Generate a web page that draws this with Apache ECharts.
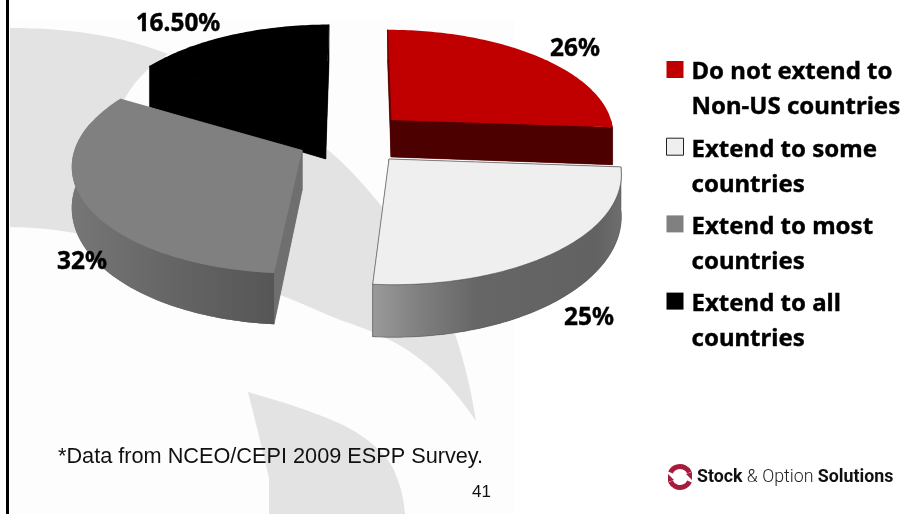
<!DOCTYPE html>
<html>
<head>
<meta charset="utf-8">
<style>html,body{margin:0;padding:0;background:#fff}#chart{width:903px;height:514px}</style>
<script src="https://cdn.jsdelivr.net/npm/echarts@6/dist/echarts.min.js"></script>
</head>
<body>
<div id="chart"></div>
<script>
// Survey shares, clockwise from twelve o'clock
const categories = [
  'Do not extend to\nNon-US countries',
  'Extend to some\ncountries',
  'Extend to most\ncountries',
  'Extend to all\ncountries'
];
const shares = [26, 25, 32, 16.5];
const shareLabels = ['26%', '25%', '32%', '16.50%'];

// Perspective projection of the pie plane
const view = { cx: 358, cy: 137.5, rx: 224.5, ry: 105, persp: 0.12, height: 38.5 };

// Per-slice look: explosion in pie units, wall height factor, colours, label anchor
const sliceLook = [
  { ex: 0.15, ey: 0.17, hk: 1, top: '#c00000', cut: '#4d0000', startEdge: '#7a0000', wall: [[0, '#4d0000'], [1, '#4d0000']], lx: 575, ly: 49, z: 2 },
  { ex: 0.135, ey: -0.2, hk: 1, top: '#efefef', cut: '#666666', outline: '#555555',
    wall: [[0, '#9a9a9a'], [0.2, '#7e7e7e'], [0.42, '#666666'], [0.9, '#626262'], [1, '#6e6e6e']], lx: 589, ly: 318, z: 4 },
  { ex: -0.245, ey: -0.12, hk: 1, top: '#808080', cut: '#6f6f6f',
    wall: [[0, '#767676'], [0.5, '#656565'], [1, '#565656']], lx: 82, ly: 262, z: 3 },
  { ex: -0.148, ey: 0.235, hk: 1.25, top: '#000000', cut: '#000000', startEdge: '#000000', wall: [[0, '#000000'], [1, '#000000']], lx: 178, ly: 24, z: 1 }
];

// Watermark swooshes behind the pie
const swooshPaths = [
  'M10,28 C70,28 122,36 168,54 C146,68 131,85 122,104 L250,125 L328,150 C352,170 370,192 382,207 C420,262 448,310 457,340 C466,368 472,395 476,421 C452,385 425,358 390,340 C370,330 355,325 340,320 C320,312 300,302 280,295 C190,262 100,228 10,227 Z',
  'M248,392 C290,404 320,414 345,426 C375,442 392,460 397,478 C402,490 404,502 405,514 L269,514 L269,478 C262,448 255,420 248,392 Z'
];

const total = shares.reduce((a, b) => a + b, 0);
const startAngles = shares.map((_, i) => shares.slice(0, i).reduce((a, b) => a + b, 0) / total * 360);

// World point on the pie plane to screen; down = true gives the underside of the wall
function project(X, Y, look, down) {
  const s = 1 / (1 + view.persp * Y);
  const px = view.cx + view.rx * X * s;
  let py = view.cy - view.ry * Y * s;
  if (down) py += view.height * look.hk * s * s;
  return [px, py];
}
function rimPoint(deg, look, down) {
  const t = deg * Math.PI / 180;
  return project(Math.sin(t) + look.ex, Math.cos(t) + look.ey, look, down);
}
function arc(from, to, look, down) {
  const pts = [];
  const n = Math.max(2, Math.ceil(Math.abs(to - from)));
  for (let i = 0; i <= n; i++) pts.push(rimPoint(from + (to - from) * i / n, look, down));
  return pts;
}

function sliceRenderer(index) {
  return function (params, api) {
    const look = sliceLook[index];
    const a0 = startAngles[index];
    const a1 = a0 + api.value(0) / total * 360;
    const apex = project(look.ex, look.ey, look, false);
    const apexLow = project(look.ex, look.ey, look, true);
    const children = [];
    // underside, which also closes the seams between the faces above it
    children.push({
      type: 'polygon', z2: 0,
      shape: { points: [apexLow].concat(arc(a0, a1, look, true)) },
      style: { fill: look.cut }
    });
    // cut faces next, so the rim wall and the top can cover them
    [a0, a1].forEach(function (a) {
      children.push({
        type: 'polygon', z2: 1,
        shape: { points: [apex, rimPoint(a, look, false), rimPoint(a, look, true), apexLow] },
        style: { fill: look.cut, stroke: look.cut, lineWidth: 0.5 }
      });
    });
    // only the part of the rim that faces the viewer
    const w0 = Math.max(a0, 90), w1 = Math.min(a1, 285);
    if (w1 > w0) {
      const upper = arc(w0, w1, look, false);
      const lower = arc(w0, w1, look, true).reverse();
      children.push({
        type: 'polygon', z2: 2,
        shape: { points: upper.concat(lower) },
        style: {
          fill: new echarts.graphic.LinearGradient(0, 0, 1, 0,
            look.wall.map(s => ({ offset: s[0], color: s[1] }))),
          stroke: look.outline || null, lineWidth: 0.5
        }
      });
    }
    children.push({
      type: 'polygon', z2: 3,
      shape: { points: [apex].concat(arc(a0, a1, look, false)) },
      style: { fill: look.top, stroke: look.outline || null, lineWidth: 0.6 }
    });
    if (look.startEdge) {
      children.push({
        type: 'polyline', z2: 3,
        shape: { points: [apex, rimPoint(a0, look, false)] },
        style: { fill: null, stroke: look.startEdge, lineWidth: 1.2 }
      });
    }
    children.push({
      type: 'text', z2: 4,
      style: {
        text: shareLabels[index], x: look.lx, y: look.ly,
        align: 'center', verticalAlign: 'middle',
        font: 'bold 24.4px "Noto Sans"', fill: '#000', stroke: '#000', lineWidth: 0.4
      }
    });
    return { type: 'group', children: children };
  };
}

const sliceSeries = categories.map((name, i) => ({
  type: 'custom', name: name, coordinateSystem: 'none', z: 10 + sliceLook[i].z,
  silent: true,
  data: [[shares[i]]],
  renderItem: sliceRenderer(i)
}));

const watermarkSeries = {
  type: 'custom', coordinateSystem: 'none', z: 1, silent: true,
  data: [[0]],
  renderItem: function () {
    return {
      type: 'group',
      children: swooshPaths.map(d => ({ type: 'path', shape: { pathData: d }, style: { fill: '#e3e3e3' } }))
    };
  }
};

const legendLineStyle = {
  fontFamily: '"Noto Sans"', fontWeight: 'bold', fontSize: 24,
  lineHeight: 35, color: '#000', textBorderColor: '#000', textBorderWidth: 0.4
};

const option = {
  animation: false,
  backgroundColor: '#ffffff',
  legend: {
    orient: 'vertical', left: 666, top: 29.5, padding: 0,
    itemWidth: 17, itemHeight: 17, itemGap: -13,
    selectedMode: false,
    // the blank leading line keeps each swatch level with the first text line
    formatter: name => '{s| }\n' + name.split('\n').map(line => '{t|' + line + '}').join('\n'),
    textStyle: {
      padding: [0, 0, 0, 3],
      rich: { s: { fontSize: 10, lineHeight: 41 }, t: legendLineStyle }
    },
    data: [
      { name: categories[0], icon: 'rect', itemStyle: { color: '#c00000', borderWidth: 0 } },
      { name: categories[1], icon: 'rect', itemStyle: { color: '#efefef', borderColor: '#222', borderWidth: 1 } },
      { name: categories[2], icon: 'rect', itemStyle: { color: '#808080', borderWidth: 0 } },
      { name: categories[3], icon: 'rect', itemStyle: { color: '#000000', borderWidth: 0 } }
    ]
  },
  series: [watermarkSeries].concat(sliceSeries),
  graphic: { elements: [
    // slide panel and margin rule
    { type: 'rect', z: -5, shape: { x: 10, y: 20, width: 505, height: 494 }, style: { fill: '#fdfdfd' } },
    { type: 'rect', z: 5, shape: { x: 6, y: 0, width: 3, height: 514 }, style: { fill: '#000' } },
    // footnote and slide number
    { type: 'text', z: 6, style: { text: '*Data from NCEO/CEPI 2009 ESPP Survey.', x: 58, y: 457, verticalAlign: 'middle',
        font: '21.7px "Liberation Sans"', fill: '#111' } },
    { type: 'text', z: 6, style: { text: '41', x: 472, y: 492, verticalAlign: 'middle',
        font: '17px "Liberation Sans"', fill: '#111' } },
    // company mark
    { type: 'sector', z: 6, shape: { cx: 680, cy: 477, r: 13, r0: 8, startAngle: Math.PI * 1.14, endAngle: Math.PI * 1.86 }, style: { fill: '#a51c3c' } },
    { type: 'sector', z: 6, shape: { cx: 680, cy: 477, r: 13, r0: 8, startAngle: Math.PI * 0.14, endAngle: Math.PI * 0.86 }, style: { fill: '#a51c3c' } },
    { type: 'polygon', z: 6, shape: { points: [[668, 474], [674, 480], [668, 482]] }, style: { fill: '#a51c3c' } },
    { type: 'polygon', z: 6, shape: { points: [[692, 480], [686, 474], [692, 472]] }, style: { fill: '#a51c3c' } },
    { type: 'text', z: 6, style: {
        x: 697, y: 478, verticalAlign: 'middle',
        text: '{b|Stock}{l| & Option }{b|Solutions}',
        rich: {
          b: { fontFamily: 'Roboto', fontWeight: 'bold', fontSize: 17.8, fill: '#111' },
          l: { fontFamily: 'Roboto', fontWeight: 300, fontSize: 17.8, fill: '#222' }
        } } }
  ] }
};

const chart = echarts.init(document.getElementById('chart'), null, { renderer: 'canvas' });
chart.setOption(option);
</script>
</body>
</html>
